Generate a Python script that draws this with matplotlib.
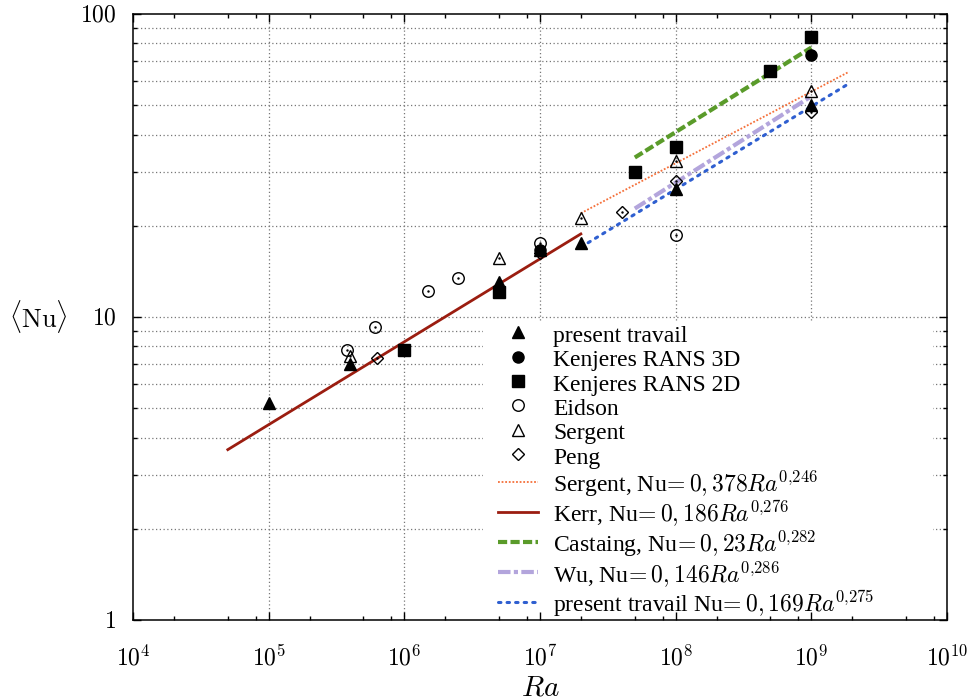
import matplotlib
matplotlib.use("Agg")
import matplotlib.pyplot as plt
from matplotlib.patches import Rectangle
from matplotlib.ticker import LogLocator, NullFormatter, FixedLocator

plt.rcParams['font.family'] = ['Liberation Serif', 'DejaVu Serif']
plt.rcParams['mathtext.fontset'] = 'cm'

# ---- data ----
present_ra = [1e5, 4e5, 5e6, 1e7, 2e7, 1e8, 1e9]
present_nu = [5.2, 7.0, 13.0, 16.6, 17.5, 26.5, 50.0]

k3d_ra = [1e7, 1e9]
k3d_nu = [16.7, 73.0]

k2d_ra = [1e6, 5e6, 5e7, 1e8, 5e8, 1e9]
k2d_nu = [7.8, 12.1, 30.0, 36.5, 65.0, 84.0]

eidson_ra = [3.8e5, 6.1e5, 1.5e6, 2.5e6, 1e7, 1e8]
eidson_nu = [7.8, 9.3, 12.2, 13.4, 17.6, 18.7]

sergent_ra = [4e5, 5e6, 2e7, 1e8, 1e9]
sergent_nu = [7.45, 15.7, 21.3, 32.6, 55.7]

peng_ra = [6.3e5, 1e7, 4e7, 1e8, 1e9]
peng_nu = [7.35, 16.3, 22.2, 28.2, 47.5]

# fit lines (end points)
fit_sergent_ra = [2e7, 1.9e9]
fit_sergent_nu = [22.0, 64.5]
fit_kerr_ra = [5e4, 2e7]
fit_kerr_nu = [3.65, 18.8]
fit_castaing_ra = [5e7, 1e9]
fit_castaing_nu = [33.6, 77.5]
fit_wu_ra = [5e7, 1e9]
fit_wu_nu = [22.8, 53.5]
fit_present_ra = [2e7, 1.9e9]
fit_present_nu = [17.0, 59.0]

labels = ["present travail", "Kenjeres RANS 3D", "Kenjeres RANS 2D", "Eidson",
          "Sergent", "Peng",
          r"Sergent, Nu$\!= 0,378Ra^{0{,}246}$",
          r"Kerr, Nu$\!= 0,186Ra^{0{,}276}$",
          r"Castaing, Nu$\!= 0,23Ra^{0{,}282}$",
          r"Wu, Nu$\!= 0,146Ra^{0{,}286}$",
          r"present travail Nu$\!= 0,169Ra^{0{,}275}$"]

c_orange = '#f5703a'
c_kerr = '#9b1d10'
c_green = '#5a9b2a'
c_wu = '#b3a5dc'
c_blue = '#2f5fd0'

fig = plt.figure(figsize=(9.73, 7.0), dpi=100)
ax = fig.add_axes([133/973, 80/700, 814/973, 606/700])
ax.set_xscale('log')
ax.set_yscale('log')
ax.set_xlim(1e4, 1e10)
ax.set_ylim(1, 100)

# grid
for v in [1e5, 1e6, 1e7, 1e8, 1e9]:
    ax.axvline(v, color='#777777', ls=(0, (1, 2)), lw=0.9, zorder=0)
for dec in [1, 10]:
    for m in range(1, 10):
        y = dec * m
        if y == 1:
            continue
        ax.axhline(y, color='#777777', ls=(0, (1, 2)), lw=0.9, zorder=0)

# white key area that hides the grid
ax.add_patch(Rectangle((483/973, 80/700), (933-483)/973, (378-80)/700,
                       transform=fig.transFigure, facecolor='white',
                       edgecolor='none', zorder=1))

# fit lines
l1, = ax.plot(fit_sergent_ra, fit_sergent_nu, color=c_orange, ls=(0, (1, 1)), lw=1.3, zorder=2)
l2, = ax.plot(fit_kerr_ra, fit_kerr_nu, color=c_kerr, ls='-', lw=2.0, zorder=2)
l3, = ax.plot(fit_castaing_ra, fit_castaing_nu, color=c_green, ls=(0, (2.2, 0.8)), lw=3.0, zorder=2)
l4, = ax.plot(fit_wu_ra, fit_wu_nu, color=c_wu, ls=(0, (3, 0.8, 1, 0.8)), lw=3.0, zorder=2)
l5, = ax.plot(fit_present_ra, fit_present_nu, color=c_blue, ls=(0, (0.8, 2.0)), lw=2.2,
              dash_capstyle='round', zorder=2)

# markers
p1, = ax.plot(present_ra, present_nu, ls='none', marker='^', ms=8.0, color='black', zorder=4)
p2, = ax.plot(k3d_ra, k3d_nu, ls='none', marker='o', ms=8.0, color='black', zorder=4)
p3, = ax.plot(k2d_ra, k2d_nu, ls='none', marker='s', ms=8.5, color='black', zorder=4)
p4, = ax.plot(eidson_ra, eidson_nu, ls='none', marker='o', ms=8.3, mfc='none', mec='black', mew=1.0, zorder=3)
p5, = ax.plot(sergent_ra, sergent_nu, ls='none', marker='^', ms=8.5, mfc='none', mec='black', mew=1.0, zorder=3)
p6, = ax.plot(peng_ra, peng_nu, ls='none', marker='D', ms=6.2, mfc='none', mec='black', mew=1.0, zorder=3)
for xs, ys in [(eidson_ra, eidson_nu), (sergent_ra, sergent_nu), (peng_ra, peng_nu)]:
    ax.plot(xs, ys, ls='none', marker='.', ms=1.5, color='black', zorder=3)

# ticks
ax.xaxis.set_major_locator(FixedLocator([1e4, 1e5, 1e6, 1e7, 1e8, 1e9, 1e10]))
ax.xaxis.set_minor_locator(LogLocator(base=10, subs=[2, 5, 8]))
ax.xaxis.set_minor_formatter(NullFormatter())
ax.yaxis.set_major_locator(FixedLocator([1, 10, 100]))
ax.yaxis.set_minor_locator(LogLocator(base=10, subs=range(2, 10)))
ax.yaxis.set_minor_formatter(NullFormatter())
ax.set_xticks([1e4, 1e5, 1e6, 1e7, 1e8, 1e9, 1e10])
ax.set_xticklabels([r'$10^{4}$', r'$10^{5}$', r'$10^{6}$', r'$10^{7}$', r'$10^{8}$', r'$10^{9}$', r'$10^{10}$'])
ax.set_yticks([1, 10, 100])
ax.set_yticklabels([r'$1$', r'$10$', r'$100$'])
ax.tick_params(which='both', direction='in', top=True, right=True, width=1.0)
ax.tick_params(which='major', length=5.5, labelsize=17)
ax.tick_params(which='minor', length=3.0)
ax.tick_params(axis='x', which='major', pad=18)
ax.tick_params(axis='y', which='major', pad=12)
for s in ax.spines.values():
    s.set_linewidth(1.1)
    s.set_zorder(6)

ax.set_xlabel(r'$Ra$', fontsize=21, labelpad=4)
ax.set_ylabel(r'$\langle\mathrm{Nu}\rangle$', fontsize=19, rotation=0, labelpad=30, va='center')

handles = [p1, p2, p3, p4, p5, p6, l1, l2, l3, l4, l5]
leg = ax.legend(handles, labels, loc='lower left',
                bbox_to_anchor=(492/973, 75/700), bbox_transform=fig.transFigure,
                fontsize=17, frameon=False, borderpad=0.25,
                labelspacing=0.0, handlelength=1.7, handleheight=1.1,
                handletextpad=0.65, borderaxespad=0.0)
leg.set_zorder(5)

fig.savefig('out.png', dpi=100)
